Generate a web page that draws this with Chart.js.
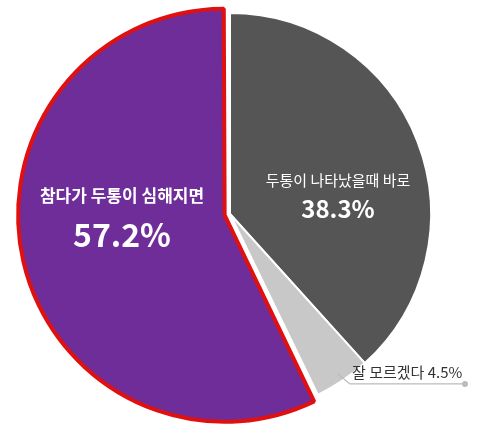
<!DOCTYPE html><html><head><meta charset="utf-8"><script src="https://cdn.jsdelivr.net/npm/chart.js@4"></script>
<style>body{margin:0;background:#fff}</style></head><body>
<canvas id="c" width="500" height="432"></canvas>
<script>
const categories=["두통이 나타났을때 바로","잘 모르겠다","참다가 두통이 심해지면"];
const values=[38.3,4.5,57.2];
const colors=["#555555","#c8c8c8","#6f2d9a"];
const labelPlugin={id:'lbl',afterDatasetsDraw(chart){
 const ctx=chart.ctx,meta=chart.getDatasetMeta(0);
 ctx.save();ctx.textAlign='center';ctx.fillStyle='#fff';
 let a=meta.data[0];
 ctx.font='15px "Noto Sans CJK KR"';ctx.fillText(categories[0],a.x+108,a.y-28);
 ctx.font='bold 24px "Noto Sans CJK KR"';ctx.fillText(values[0].toFixed(1)+'%',a.x+108,a.y+4);
 let p=meta.data[2];
 ctx.font='bold 17px "Noto Sans CJK KR"';ctx.fillText(categories[2],p.x-108,p.y-12);
 ctx.font='bold 32px "Noto Sans CJK KR"';ctx.fillText(values[2].toFixed(1)+'%',p.x-108,p.y+33);
 let g=meta.data[1];const mid=(g.startAngle+g.endAngle)/2;
 const sx=g.x+Math.cos(mid)*(g.outerRadius-8),sy=g.y+Math.sin(mid)*(g.outerRadius-8);
 ctx.strokeStyle='#bbb';ctx.lineWidth=1.2;ctx.beginPath();ctx.moveTo(sx,sy);ctx.lineTo(sx+12,sy+10);ctx.lineTo(465,sy+10);ctx.stroke();
 ctx.fillStyle='#bbb';ctx.beginPath();ctx.arc(465,sy+10,3,0,7);ctx.fill();
 ctx.fillStyle='#333';ctx.textAlign='left';ctx.font='15px "Noto Sans CJK KR"';
 ctx.fillText(categories[1]+' '+values[1].toFixed(1)+'%',sx+14,sy+4);
 ctx.restore();}};
new Chart(document.getElementById('c'),{type:'pie',data:{labels:categories,datasets:[{data:values,backgroundColor:colors,borderColor:['#fff','#fff','#e01010'],borderWidth:[2,2,4],offset:[0,0,22],borderAlign:'center'}]},
options:{responsive:false,animation:false,layout:{padding:{left:12,right:52,top:0,bottom:4}},plugins:{legend:{display:false},tooltip:{enabled:false}}},plugins:[labelPlugin]});
</script></body></html>
